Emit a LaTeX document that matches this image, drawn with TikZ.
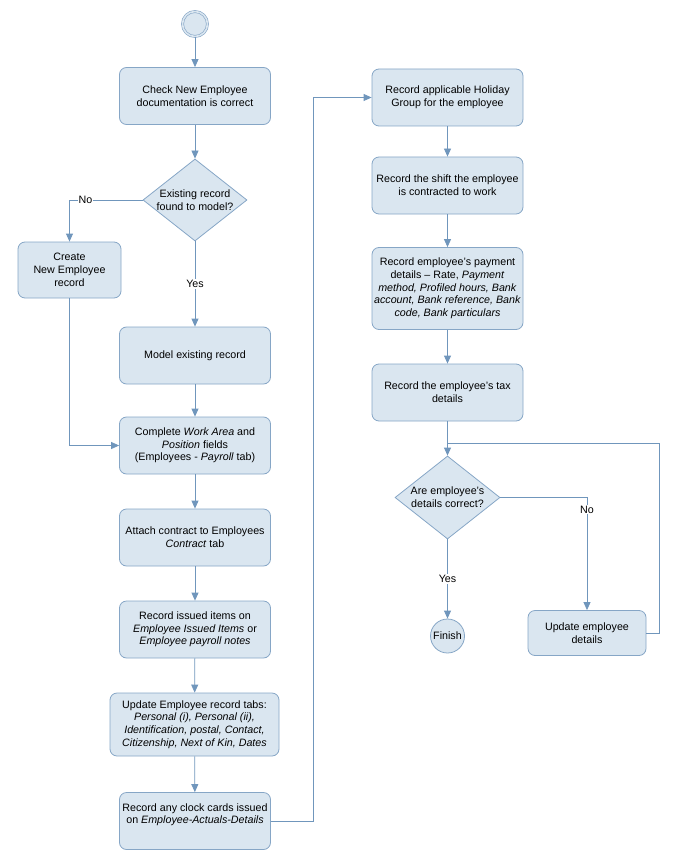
\documentclass[tikz,border=0pt]{standalone}
\usepackage{fontspec}
\setmainfont{Liberation Sans}
\usepackage{xcolor}
\usepackage{tikz}
\usetikzlibrary{shapes, arrows.meta, positioning}
\definecolor{boxfill}{RGB}{218,230,240}
\definecolor{boxline}{RGB}{134,166,198}
\definecolor{flowline}{RGB}{112,150,188}

\begin{document}
\begin{tikzpicture}[x=1pt,y=-1pt,font=\fontsize{10.7}{12.7}\selectfont,
    task/.style={draw=boxline,fill=boxfill,line width=0.8pt,rounded corners=7pt,
      minimum width=151pt,minimum height=57pt,align=center,inner sep=2pt},
    decision/.style={draw=boxline,fill=boxfill,line width=0.8pt,diamond,aspect=1.27,
      inner sep=0pt,minimum width=104pt,minimum height=82pt,align=center},
    startnode/.style={circle,draw=boxline,fill=boxfill,line width=0.6pt,
      double=boxfill,double distance=1.6pt,minimum size=25pt},
    finishnode/.style={circle,draw=boxline,fill=boxfill,line width=0.8pt,
      minimum size=34pt,inner sep=0pt},
    flow/.style={draw=flowline,line width=0.8pt,-{Triangle[length=8pt,width=7pt]}},
    tag/.style={fill=white,inner sep=1pt}]
        \useasboundingbox (0,0) rectangle (680,861);
        \node[startnode] (start) at (195,24) {};
        \node[task] (check) at (195,96) {Check New Employee\\documentation is correct};
        \node[decision] (found) at (195,200) {Existing record\\found to model?};
        \node[task,minimum width=103pt,minimum height=56pt] (create) at (69.5,270)
          {Create\\New Employee\\record};
        \node[task] (model) at (195,355.5) {Model existing record};
        \node[task] (complete) at (195,445.5)
          {Complete \textit{Work Area} and\\\textit{Position} fields\\(Employees - \textit{Payroll} tab)};
        \node[task] (attach) at (195,537.5) {Attach contract to Employees\\\textit{Contract} tab};
        \node[task] (issued) at (195,629.5)
          {Record issued items on\\\textit{Employee Issued Items} or\\\textit{Employee payroll notes}};
        \node[task,minimum width=169pt,minimum height=63pt] (tabs) at (194.5,724.5)
          {Update Employee record tabs:\\\textit{Personal (i), Personal (ii),}\\
           \textit{Identification, postal, Contact,}\\\textit{Citizenship, Next of Kin, Dates}};
        \node[task] (clock) at (195,821) {};
        \node[align=center] (clocktext) at ([yshift=6.3pt]clock.center)
          {Record any clock cards issued\\on \textit{Employee-Actuals-Details}};

        \node[task] (holiday) at (447.5,97.5) {Record applicable Holiday\\Group for the employee};
        \node[task] (shift) at (447.5,185.5) {Record the shift the employee\\is contracted to work};
        \node[task,minimum height=82pt] (payment) at (447.5,288.5)
          {Record employee's payment\\details -- Rate, \textit{Payment}\\\textit{method, Profiled hours, Bank}\\
           \textit{account, Bank reference, Bank}\\\textit{code, Bank particulars}};
        \node[task] (tax) at (447.5,392.5) {Record the employee's tax\\details};
        \coordinate (merge) at (447.5,443);
        \node[decision,minimum width=105pt,minimum height=83pt] (correct) at (447.5,497.5)
          {Are employee's\\details correct?};
        \node[finishnode] (finish) at (447.5,636) {Finish};
        \node[task,minimum width=118pt,minimum height=45pt] (update) at (587,633)
          {Update employee\\details};

        \begin{scope}[every edge/.style={flow}]
          \path (start) edge (check);
          \path (check) edge (found);
          \path (found) edge node[tag] {Yes} (model);
          \path (model) edge (complete);
          \path (complete) edge (attach);
          \path (attach) edge (issued);
          \path (issued) edge (tabs);
          \path (tabs) edge (clock);
          \path (holiday) edge (shift);
          \path (shift) edge (payment);
          \path (payment) edge (tax);
          \path (tax) edge (correct);
          \path (correct) edge node[tag] {Yes} (finish);
        \end{scope}
        \draw[flow] (found.west) -| node[tag,pos=0.39] {No} (create.north);
        \draw[flow] (create.south) |- (complete.west);
        \draw[flow] (clock.east) -- ++(42,0) |- (holiday.west);
        \draw[flow] (correct.east) -| node[tag,pos=0.553] {No} (update.north);
        \draw[draw=flowline,line width=0.8pt] (update.east) -- ++(13,0) |- (merge);
      \end{tikzpicture}
\end{document}
